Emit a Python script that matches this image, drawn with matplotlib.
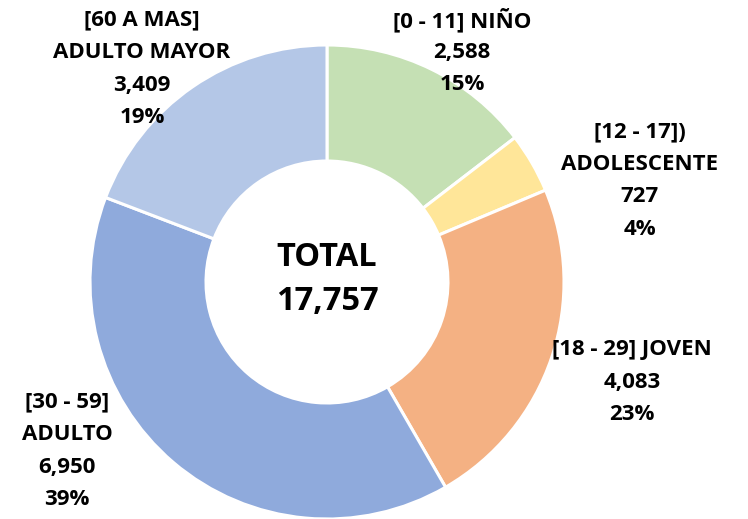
import matplotlib.pyplot as plt

# Datos del grafico
grupos = ["[0 - 11] NIÑO", "[12 - 17])\nADOLESCENTE", "[18 - 29] JOVEN",
          "[30 - 59]\nADULTO", "[60 A MAS]\nADULTO MAYOR"]
cantidades = [2588, 727, 4083, 6950, 3409]
colores = ["#C5E0B4", "#FFE699", "#F4B183", "#8FAADC", "#B4C7E7"]

# posicion de las etiquetas (px, centro de la primera linea)
pos_etiquetas = [(462, 20), (640, 132), (632, 350), (67, 402), (142, 20)]

total = sum(cantidades)

plt.rcParams['font.family'] = ['Open Sans', 'DejaVu Sans']

fig = plt.figure(figsize=(7.48, 5.19), dpi=100)
ax = fig.add_axes([0, 0, 1, 1])

ax.pie(cantidades, radius=237, center=(327, 519 - 282), startangle=90,
       counterclock=False, colors=colores,
       wedgeprops=dict(width=116, edgecolor="white", linewidth=2.2))

ax.set_xlim(0, 748)
ax.set_ylim(0, 519)
ax.set_aspect("equal")
ax.axis("off")

# Etiquetas
for grupo, cant, (x, y) in zip(grupos, cantidades, pos_etiquetas):
    lineas = grupo.split("\n") + [f"{cant:,}", f"{round(cant / total * 100)}%"]
    for i, linea in enumerate(lineas):
        ax.text(x, 519 - (y + i * 32.5), linea, ha="center", va="center",
                fontsize=16, fontweight="bold", color="black")

# Total al centro
ax.text(327, 519 - 257, "TOTAL", ha="center", va="center",
        fontsize=23.5, fontweight="bold")
ax.text(327, 519 - 302, f"{total:,}", ha="center", va="center",
        fontsize=23.5, fontweight="bold")

plt.savefig("out.png", dpi=100)
